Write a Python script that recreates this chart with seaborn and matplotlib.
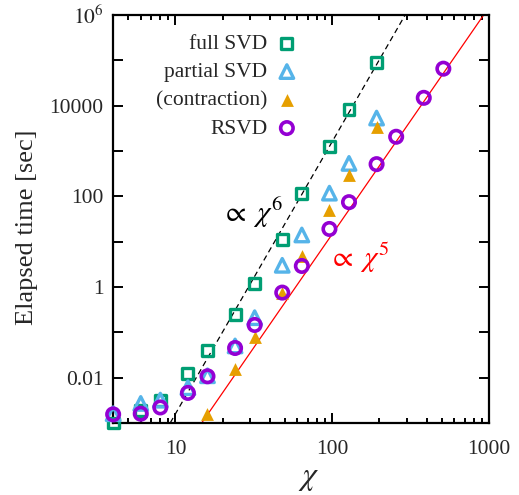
import numpy as np
import pandas as pd
import matplotlib
matplotlib.use("Agg")
import matplotlib.pyplot as plt
import seaborn as sns
from matplotlib.ticker import LogLocator, NullFormatter

# ---- data ----
chi_full = [4, 6, 8, 12, 16, 24, 32, 48, 64, 96, 128, 192]
t_full = [0.001, 0.0019, 0.0032, 0.0125, 0.04, 0.25, 1.2, 11, 117, 1230, 8000, 87000]

chi_partial = [4, 6, 8, 12, 16, 24, 32, 48, 64, 96, 128, 192]
t_partial = [0.0016, 0.0027, 0.0032, 0.006, 0.011, 0.05, 0.21, 3.0, 14, 117, 530, 5300]

chi_contr = [16, 24, 32, 48, 64, 96, 128, 192]
t_contr = [0.0016, 0.0155, 0.08, 0.75, 4.8, 50, 300, 3400]

chi_rsvd = [4, 6, 8, 12, 16, 24, 32, 48, 64, 96, 128, 192, 256, 384, 512]
t_rsvd = [0.00155, 0.0016, 0.0022, 0.0046, 0.0107, 0.045, 0.145, 0.75, 2.9, 19, 74,
          510, 2050, 14800, 65000]

# scaling guide lines: t = coef * chi^power
guide_powers = [6, 5]
guide_coefs = [1.6e-9, 1.46e-9]
guide_labels = [r"$\propto\ \chi^6$", r"$\propto\ \chi^5$"]

series_names = ["full SVD", "partial SVD", "(contraction)", "RSVD"]
ytick_vals = [1e-2, 1e0, 1e2, 1e4, 1e6]
ytick_labels = ["0.01", "1", "100", "10000", r"$10^6$"]
xtick_vals = [10, 100, 1000]
xtick_labels = ["10", "100", "1000"]

# ---- style ----
sns.set_theme(style="white")
plt.rcParams["font.family"] = ["Liberation Serif", "DejaVu Serif"]
plt.rcParams["mathtext.fontset"] = "stix"

fig = plt.figure(figsize=(5.19, 4.95), dpi=100)
ax = fig.add_axes([0.218, 0.1455, 0.724, 0.8245])
ax.set_xscale("log")
ax.set_yscale("log")

# guide lines
xl = np.array([4.0, 1000.0])
line_colors = ["black", "#ff0000"]
for i, (p, c, col) in enumerate(zip(guide_powers, guide_coefs, line_colors)):
    df = pd.DataFrame({"x": xl, "y": c * xl ** p})
    sns.lineplot(data=df, x="x", y="y", ax=ax, color=col, linewidth=0.9,
                 legend=False, zorder=1)
ax.lines[0].set_dashes([4.5, 3])

common = dict(ax=ax, clip_on=False, zorder=3)
sns.scatterplot(x=chi_full, y=t_full, marker="s", s=62, facecolor="none",
                edgecolor="#009E73", linewidth=2.4, label=series_names[0], **common)
sns.scatterplot(x=chi_partial, y=t_partial, marker="^", s=95, facecolor="none",
                edgecolor="#56B4E9", linewidth=2.4, label=series_names[1], **common)
sns.scatterplot(x=chi_contr, y=t_contr, marker="^", s=85, color="#E69F00",
                edgecolor="#E69F00", linewidth=0, label=series_names[2], **common)
sns.scatterplot(x=chi_rsvd, y=t_rsvd, marker="o", s=80, facecolor="none",
                edgecolor="#9400D3", linewidth=2.6, label=series_names[3], **common)

# ticks
ax.set_xticks(xtick_vals, xtick_labels)
ax.xaxis.set_minor_locator(LogLocator(base=10, subs=np.arange(2, 10)))
ax.xaxis.set_minor_formatter(NullFormatter())
ax.set_yticks(ytick_vals, ytick_labels)
ax.set_yticks([1e-3, 1e-1, 1e1, 1e3, 1e5], minor=True)
ax.yaxis.set_minor_formatter(NullFormatter())
ax.tick_params(which="both", direction="in", top=True, right=True,
               bottom=True, left=True, width=1.4, color="black")
ax.tick_params(axis="y", which="both", length=7, labelsize=15.5, pad=7)
ax.tick_params(axis="x", which="major", length=7, labelsize=15.5, pad=12)
ax.tick_params(axis="x", which="minor", length=3.5)
ax.set_ylim(1e-3, 1e6)
ax.set_xlim(4, 1000)

for sp in ax.spines.values():
    sp.set_linewidth(1.6)
    sp.set_color("black")

ax.set_xlabel(r"$\chi$", fontsize=23)
ax.xaxis.set_label_coords(0.52, -0.10)
ax.set_ylabel("Elapsed time [sec]", fontsize=19)
ax.yaxis.set_label_coords(-0.20, 0.48)

# annotations
ax.text(19.4, 43, guide_labels[0], fontsize=21, color="black", ha="left", va="center")
ax.text(94, 4.5, guide_labels[1], fontsize=21, color="#ff0000", ha="left", va="center")

# legend: text first, marker after (right-aligned labels)
handles, labels = ax.get_legend_handles_labels()
order = [labels.index(n) for n in series_names]
leg = ax.legend([handles[i] for i in order], [labels[i] for i in order],
                loc="upper left", bbox_to_anchor=(0.08, 0.985), markerfirst=False,
                frameon=False, fontsize=15.5, labelspacing=0.38, handletextpad=0.3,
                handlelength=1.2, borderaxespad=0.2)

fig.savefig("out.png", dpi=100)
